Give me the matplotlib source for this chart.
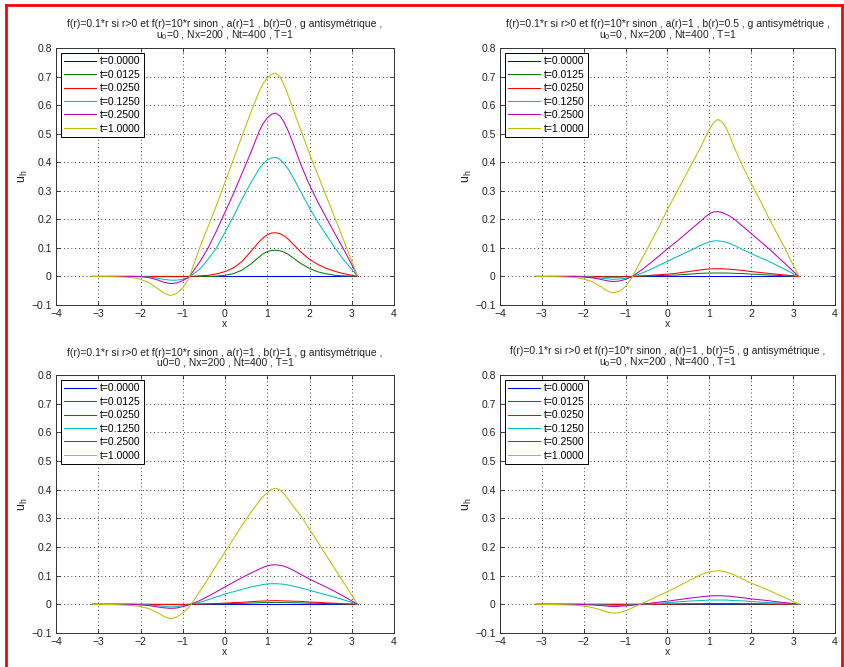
import matplotlib
matplotlib.use("Agg")
import matplotlib.pyplot as plt
from matplotlib.lines import Line2D

plt.rcParams['font.family'] = ['Liberation Sans', 'DejaVu Sans']
plt.rcParams['mathtext.fontset'] = 'custom'
plt.rcParams['mathtext.rm'] = 'Liberation Sans'
plt.rcParams['mathtext.it'] = 'Liberation Sans'

# ---------------- data ----------------
X = [-3.14, -2.6, -2.2, -2.0, -1.8, -1.6, -1.45, -1.3, -1.15, -1.0, -0.85, -0.6, -0.4, -0.2,
     0.0, 0.2, 0.4, 0.6, 0.8, 0.9, 1.0, 1.1, 1.2, 1.3, 1.4, 1.5, 1.6,
     1.8, 2.0, 2.2, 2.4, 2.6, 2.8, 3.0, 3.14]

labels = ['t=0.0000', 't=0.0125', 't=0.0250', 't=0.1250', 't=0.2500', 't=1.0000']

zeros = [0.0] * len(X)

# b(r)=0
tl_green = [0, 0, 0, 0, 0, 0, 0, 0, 0, 0, 0, 0, 0, 0.001, 0.004, 0.01, 0.022, 0.042,
            0.067, 0.079, 0.087, 0.091, 0.092, 0.09, 0.085, 0.077, 0.066,
            0.045, 0.028, 0.016, 0.009, 0.004, 0.002, 0.001, 0.0]
tl_red = [0, 0, 0, 0, 0, 0, -0.001, -0.001, -0.001, -0.001, 0.0, 0.002, 0.004, 0.009, 0.017, 0.03, 0.052, 0.085,
          0.12, 0.135, 0.146, 0.152, 0.153, 0.15, 0.142, 0.13, 0.115,
          0.085, 0.06, 0.042, 0.028, 0.018, 0.01, 0.004, 0.0]
tl_cyan = [0, 0, 0, 0, -0.002, -0.006, -0.01, -0.013, -0.013, -0.01, -0.002, 0.025, 0.06, 0.10, 0.155, 0.21, 0.27, 0.325,
           0.375, 0.394, 0.408, 0.415, 0.417, 0.41, 0.395, 0.375, 0.35,
           0.295, 0.24, 0.19, 0.145, 0.1, 0.06, 0.025, 0.0]
tl_magenta = [0, 0, 0, -0.001, -0.004, -0.012, -0.02, -0.025, -0.023, -0.015, -0.002, 0.05, 0.10, 0.16, 0.225, 0.29, 0.36, 0.43,
              0.505, 0.535, 0.555, 0.568, 0.572, 0.562, 0.54, 0.508, 0.47,
              0.39, 0.32, 0.26, 0.205, 0.15, 0.097, 0.042, 0.0]
tl_yellow = [0, -0.001, -0.004, -0.01, -0.022, -0.042, -0.058, -0.067, -0.06, -0.04, -0.005, 0.10, 0.175, 0.25, 0.33, 0.41, 0.49, 0.57,
             0.645, 0.675, 0.695, 0.708, 0.712, 0.70, 0.67, 0.632, 0.59,
             0.51, 0.43, 0.355, 0.28, 0.205, 0.13, 0.053, 0.0]

# b(r)=0.5
tr_green = [0, 0, 0, 0, 0, 0, -0.001, -0.001, -0.001, 0, 0, 0.001, 0.002, 0.003, 0.004, 0.005, 0.007, 0.009,
            0.011, 0.0115, 0.012, 0.012, 0.012, 0.012, 0.012, 0.0115, 0.011,
            0.01, 0.008, 0.007, 0.005, 0.004, 0.002, 0.001, 0.0]
tr_red = [0, 0, 0, 0, -0.001, -0.001, -0.002, -0.002, -0.002, -0.001, 0.0, 0.002, 0.004, 0.006, 0.008, 0.011, 0.015, 0.019,
          0.023, 0.025, 0.026, 0.027, 0.027, 0.027, 0.026, 0.025, 0.024,
          0.021, 0.017, 0.014, 0.011, 0.008, 0.005, 0.002, 0.0]
tr_cyan = [0, 0, 0, -0.001, -0.003, -0.006, -0.008, -0.01, -0.009, -0.006, -0.001, 0.012, 0.025, 0.039, 0.053, 0.067, 0.081, 0.095,
           0.109, 0.116, 0.121, 0.124, 0.125, 0.123, 0.12, 0.115, 0.108,
           0.094, 0.08, 0.067, 0.054, 0.04, 0.025, 0.01, 0.0]
tr_magenta = [0, 0, 0, -0.002, -0.005, -0.01, -0.015, -0.018, -0.016, -0.01, -0.001, 0.025, 0.048, 0.072, 0.097, 0.12, 0.145, 0.17,
              0.195, 0.208, 0.22, 0.226, 0.227, 0.224, 0.218, 0.21, 0.2,
              0.175, 0.15, 0.125, 0.1, 0.073, 0.046, 0.018, 0.0]
tr_yellow = [0, -0.001, -0.004, -0.009, -0.018, -0.035, -0.05, -0.058, -0.052, -0.035, -0.004, 0.065, 0.12, 0.175, 0.235, 0.29, 0.345, 0.4,
             0.455, 0.487, 0.515, 0.538, 0.55, 0.542, 0.52, 0.487, 0.45,
             0.385, 0.325, 0.27, 0.21, 0.155, 0.1, 0.04, 0.0]

# b(r)=1
bl_green = [0, 0, 0, 0, 0, 0, 0, 0, 0, 0, 0, 0.0005, 0.001, 0.0015, 0.002, 0.003, 0.0035, 0.0045,
            0.0055, 0.006, 0.006, 0.0065, 0.0065, 0.0065, 0.006, 0.006, 0.0055,
            0.005, 0.004, 0.0035, 0.0025, 0.002, 0.001, 0.0005, 0.0]
bl_red = [0, 0, 0, 0, 0, -0.001, -0.001, -0.001, -0.001, -0.001, 0, 0.001, 0.002, 0.003, 0.004, 0.006, 0.007, 0.009,
          0.011, 0.0115, 0.012, 0.0125, 0.013, 0.0125, 0.012, 0.0115, 0.011,
          0.01, 0.008, 0.007, 0.005, 0.004, 0.002, 0.001, 0.0]
bl_cyan = [0, 0, 0, -0.001, -0.002, -0.005, -0.007, -0.009, -0.008, -0.005, -0.001, 0.007, 0.016, 0.026, 0.036, 0.044, 0.052, 0.06,
           0.066, 0.069, 0.071, 0.072, 0.072, 0.071, 0.07, 0.067, 0.064,
           0.057, 0.049, 0.041, 0.033, 0.025, 0.016, 0.007, 0.0]
bl_magenta = [0, 0, 0, -0.002, -0.004, -0.009, -0.012, -0.014, -0.013, -0.008, -0.002, 0.013, 0.028, 0.044, 0.061, 0.077, 0.093, 0.108,
              0.122, 0.129, 0.134, 0.137, 0.138, 0.136, 0.133, 0.127, 0.12,
              0.104, 0.088, 0.074, 0.06, 0.045, 0.029, 0.012, 0.0]
bl_yellow = [0, -0.001, -0.004, -0.008, -0.015, -0.029, -0.042, -0.05, -0.045, -0.03, -0.01, 0.044, 0.09, 0.137, 0.183, 0.229, 0.275, 0.318,
             0.358, 0.376, 0.39, 0.401, 0.405, 0.399, 0.385, 0.366, 0.345,
             0.308, 0.262, 0.216, 0.17, 0.124, 0.078, 0.032, 0.0]

# b(r)=5
br_green = [0, 0, 0, 0, 0, 0, 0, 0, 0, 0, 0, 0, 0, 0.0003, 0.0005, 0.0007, 0.0009, 0.0011,
            0.0013, 0.0014, 0.0014, 0.0015, 0.0015, 0.0015, 0.0014, 0.0014, 0.0013,
            0.0011, 0.0009, 0.0007, 0.0005, 0.0004, 0.0002, 0.0001, 0.0]
br_red = [0, 0, 0, 0, 0, 0, 0, 0, 0, 0, 0, 0, 0, 0.001, 0.001, 0.001, 0.002, 0.002,
          0.002, 0.0025, 0.003, 0.003, 0.003, 0.003, 0.003, 0.003, 0.003,
          0.002, 0.002, 0.002, 0.001, 0.001, 0.001, 0.0, 0.0]
br_cyan = [0, 0, 0, 0, -0.001, -0.002, -0.003, -0.004, -0.004, -0.003, -0.002, 0.0, 0.002, 0.004, 0.006, 0.008, 0.01, 0.012,
           0.013, 0.014, 0.015, 0.015, 0.015, 0.015, 0.015, 0.014, 0.013,
           0.012, 0.01, 0.008, 0.006, 0.005, 0.003, 0.001, 0.0]
br_magenta = [0, 0, 0, -0.001, -0.002, -0.004, -0.006, -0.008, -0.007, -0.005, -0.003, 0.001, 0.004, 0.008, 0.011, 0.015, 0.019, 0.023,
              0.026, 0.028, 0.029, 0.03, 0.03, 0.03, 0.029, 0.028, 0.026,
              0.023, 0.019, 0.016, 0.013, 0.009, 0.006, 0.003, 0.0]
br_yellow = [0, -0.001, -0.003, -0.006, -0.011, -0.019, -0.026, -0.031, -0.029, -0.022, -0.013, 0.004, 0.017, 0.031, 0.044, 0.059, 0.074, 0.089,
             0.103, 0.109, 0.113, 0.116, 0.117, 0.116, 0.113, 0.108, 0.102,
             0.088, 0.074, 0.062, 0.05, 0.037, 0.024, 0.01, 0.0]

titles = [
    "f(r)=0.1*r si r>0 et f(r)=10*r sinon , a(r)=1 , b(r)=0 , g antisymétrique ,\nu$_0$=0 , Nx=200 , Nt=400 , T=1",
    "f(r)=0.1*r si r>0 et f(r)=10*r sinon , a(r)=1 , b(r)=0.5 , g antisymétrique ,\nu$_0$=0 , Nx=200 , Nt=400 , T=1",
    "f(r)=0.1*r si r>0 et f(r)=10*r sinon , a(r)=1 , b(r)=1 , g antisymétrique ,\nu0=0 , Nx=200 , Nt=400 , T=1",
    "f(r)=0.1*r si r>0 et f(r)=10*r sinon , a(r)=1 , b(r)=5 , g antisymétrique ,\nu$_0$=0 , Nx=200 , Nt=400 , T=1",
]

panels = [
    [zeros, tl_green, tl_red, tl_cyan, tl_magenta, tl_yellow],
    [zeros, tr_green, tr_red, tr_cyan, tr_magenta, tr_yellow],
    [zeros, bl_green, bl_red, bl_cyan, bl_magenta, bl_yellow],
    [zeros, br_green, br_red, br_cyan, br_magenta, br_yellow],
]

xticks = [-4, -3, -2, -1, 0, 1, 2, 3, 4]
xticklabels = ['\u22124', '\u22123', '\u22122', '\u22121', '0', '1', '2', '3', '4']
yticks = [-0.1, 0, 0.1, 0.2, 0.3, 0.4, 0.5, 0.6, 0.7, 0.8]
yticklabels = ['\u22120.1', '0', '0.1', '0.2', '0.3', '0.4', '0.5', '0.6', '0.7', '0.8']

colors = [(0, 0, 1), (0, 0.5, 0), (1, 0, 0), (0, 0.75, 0.75), (0.75, 0, 0.75), (0.75, 0.75, 0)]

# ---------------- layout ----------------
W, H = 845, 667
fig = plt.figure(figsize=(W / 100, H / 100), dpi=100)

rects_px = [(56, 48, 394, 305), (500, 48, 835, 305), (56, 375, 394, 633), (500, 375, 835, 633)]

for i, (l, t, r, b) in enumerate(rects_px):
    ax = fig.add_axes([l / W, (H - b) / H, (r - l) / W, (b - t) / H])
    for ys, c, lab in zip(panels[i], colors, labels):
        ax.plot(X, ys, color=c, lw=0.75, label=lab)
    ax.set_xlim(-4, 4)
    ax.set_ylim(-0.1, 0.8)
    ax.set_xticks(xticks)
    ax.set_xticklabels(xticklabels)
    ax.set_yticks(yticks)
    ax.set_yticklabels(yticklabels)
    ax.tick_params(direction='in', length=3, width=0.6, labelsize=7.5, pad=3,
                   top=True, right=True, colors='#222222', labelcolor='#222222')
    ax.grid(True, color='black', linestyle=(0, (1, 3.5)), linewidth=0.6)
    ax.set_axisbelow(True)
    for s in ax.spines.values():
        s.set_linewidth(0.7)
        s.set_color('#333333')
    ax.set_xlabel('x', fontsize=7.5, labelpad=0, color='#222222')
    ax.set_ylabel('u$_\\mathregular{h}$', fontsize=9, labelpad=1, color='#222222')
    ax.set_title(titles[i], fontsize=7.5, linespacing=0.95, pad=7, color='#222222')
    leg = ax.legend(loc='upper left', fontsize=7.5, handlelength=3.0, labelspacing=0.33,
                    borderpad=0.3, handletextpad=0.45, borderaxespad=0.5, fancybox=False,
                    framealpha=1, edgecolor='black')
    leg.get_frame().set_linewidth(0.7)

# red frame
fig.add_artist(Line2D([6 / W, 6 / W], [0, 1 - 5 / H], transform=fig.transFigure, color='red', lw=2))
fig.add_artist(Line2D([6 / W, 842 / W], [1 - 5 / H, 1 - 5 / H], transform=fig.transFigure, color='red', lw=2))
fig.add_artist(Line2D([842 / W, 842 / W], [0, 1 - 5 / H], transform=fig.transFigure, color='red', lw=2))

fig.savefig('out.png', dpi=100)
